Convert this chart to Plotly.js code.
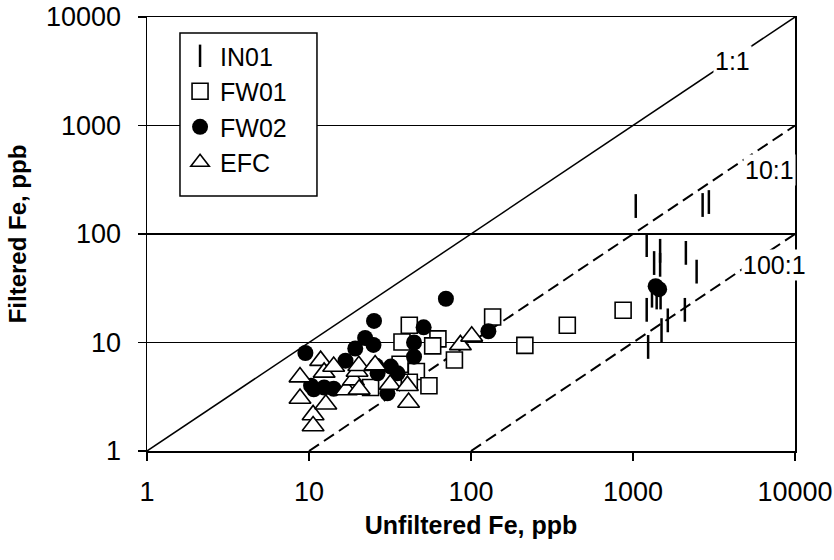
<!DOCTYPE html>
<html>
<head>
<meta charset="utf-8">
<script src="https://cdn.plot.ly/plotly-3.0.1.min.js"></script>
<style>html,body{margin:0;padding:0;background:#fff;}#chart{width:834px;height:560px;}</style>
</head>
<body>
<div id="chart"></div>
<script>
// Data (ppb)
var IN01_x = [1040, 2690, 2940, 1215, 1350, 1470, 1470, 2120, 2470, 1310, 1400, 1480, 1215, 1500, 1640, 2090, 1240];
var IN01_y = [181, 185, 197, 79, 54, 70, 52, 67, 45, 27, 26, 26, 20, 13, 16, 20, 9.1];

var FW01_x = [41.6, 37.5, 62.5, 58, 36.5, 46, 79, 55, 41.6, 24, 136, 215, 393, 869];
var FW01_y = [14.4, 10.1, 10.8, 9.3, 6.3, 5.4, 6.9, 4.0, 4.3, 3.85, 17.2, 9.4, 14.4, 19.8];

var FW02_x = [9.5, 10.3, 10.7, 12.4, 14.2, 16.8, 19.3, 22.2, 25.0, 25.2, 26.0, 26.5, 30.5, 32.0, 35.2, 44.5, 44.5, 51, 70, 128, 1380, 1450];
var FW02_y = [8.0, 4.0, 3.7, 3.85, 3.75, 6.8, 8.8, 11.0, 9.5, 15.8, 6.1, 5.2, 3.4, 6.0, 5.2, 10, 7.4, 13.8, 25.3, 12.7, 33, 31];

var EFC_x = [8.8, 8.8, 10.6, 10.6, 11.8, 12.4, 12.7, 14.2, 17.0, 18.8, 19.8, 20.3, 20.4, 25.6, 31.7, 41.2, 40.5, 86, 101];
var EFC_y = [4.8, 3.05, 2.15, 1.7, 6.8, 5.3, 2.7, 6.0, 3.65, 4.5, 5.4, 6.1, 3.7, 6.2, 4.1, 2.8, 4.0, 9.5, 11.4];

// Ratio reference lines (unfiltered : filtered)
var line11_x = [1, 10000],   line11_y = [1, 10000];
var line101_x = [10, 10000], line101_y = [1, 1000];
var line1001_x = [100, 10000], line1001_y = [1, 100];

var tickVals = [1, 10, 100, 1000, 10000];
var tickText = ["1", "10", "100", "1000", "10000"];

var FONT = "Arial, 'Liberation Sans', sans-serif";

var traces = [
  {x: line11_x, y: line11_y, mode: 'lines', line: {color: '#000', width: 1.5}, showlegend: false, hoverinfo: 'skip'},
  {x: line101_x, y: line101_y, mode: 'lines', line: {color: '#000', width: 2, dash: '12px,6px'}, showlegend: false, hoverinfo: 'skip'},
  {x: line1001_x, y: line1001_y, mode: 'lines', line: {color: '#000', width: 2, dash: '12px,6px'}, showlegend: false, hoverinfo: 'skip'},
  {x: IN01_x, y: IN01_y, name: 'IN01', mode: 'markers', cliponaxis: false,
   marker: {symbol: 'line-ns', size: 17, color: '#000', line: {color: '#000', width: 2.5}}},
  {x: FW01_x, y: FW01_y, name: 'FW01', mode: 'markers',
   marker: {symbol: 'square', size: 16, color: '#fff', line: {color: '#000', width: 1.6}}},
  {x: FW02_x, y: FW02_y, name: 'FW02', mode: 'markers',
   marker: {symbol: 'circle', size: 16, color: '#000', line: {color: '#000', width: 0}}},
  {x: EFC_x, y: EFC_y, name: 'EFC', mode: 'markers',
   marker: {symbol: 'triangle-up', size: 19, color: '#fff', line: {color: '#000', width: 1.6}}}
];

var layout = {
  width: 834, height: 560,
  margin: {l: 147, r: 39, t: 17, b: 109},
  paper_bgcolor: '#fff', plot_bgcolor: '#fff',
  font: {family: FONT, size: 25, color: '#000'},
  showlegend: true,
  legend: {x: 0.051, y: 0.963, xanchor: 'left', yanchor: 'top',
           bgcolor: 'rgba(0,0,0,0)', borderwidth: 0,
           font: {family: FONT, size: 25, color: '#000'}},
  shapes: [
    {type: 'rect', xref: 'paper', yref: 'paper', x0: 0.0509, x1: 0.2623, y0: 0.5876, y1: 0.9631,
     fillcolor: '#fff', line: {color: '#000', width: 1.5}, layer: 'above'}
  ],
  xaxis: {type: 'log', range: [0, 4], tickvals: tickVals, ticktext: tickText,
          showgrid: false, zeroline: false, showline: true, linecolor: '#000', linewidth: 1.5, mirror: true,
          ticks: 'outside', ticklen: 8, tickwidth: 1.5, tickcolor: '#000', ticklabelstandoff: 8,
          tickfont: {family: FONT, size: 27},
          title: {text: 'Unfiltered Fe, ppb', standoff: 10, font: {family: FONT, size: 25, weight: 'bold'}}},
  yaxis: {type: 'log', range: [0, 4], tickvals: tickVals, ticktext: tickText,
          showgrid: true, gridcolor: '#000', gridwidth: 1.5, zeroline: false,
          showline: true, linecolor: '#000', linewidth: 1.5, mirror: true,
          ticks: 'outside', ticklen: 8, tickwidth: 1.5, tickcolor: '#000', ticklabelstandoff: 11,
          tickfont: {family: FONT, size: 27},
          title: {text: 'Filtered Fe, ppb', standoff: 12, font: {family: FONT, size: 24, weight: 'bold'}}},
  annotations: [
    {text: '1:1', xref: 'paper', yref: 'paper', x: 0.903, y: 0.899, xanchor: 'center', yanchor: 'middle', showarrow: false, bgcolor: '#fff', font: {family: FONT, size: 25}},
    {text: '10:1', xref: 'paper', yref: 'paper', x: 0.961, y: 0.647, xanchor: 'center', yanchor: 'middle', showarrow: false, bgcolor: '#fff', font: {family: FONT, size: 25}},
    {text: '100:1', xref: 'paper', yref: 'paper', x: 0.968, y: 0.429, xanchor: 'center', yanchor: 'middle', showarrow: false, bgcolor: '#fff', font: {family: FONT, size: 25}}
  ]
};

Plotly.newPlot('chart', traces, layout, {displayModeBar: false, staticPlot: true});
</script>
</body>
</html>
